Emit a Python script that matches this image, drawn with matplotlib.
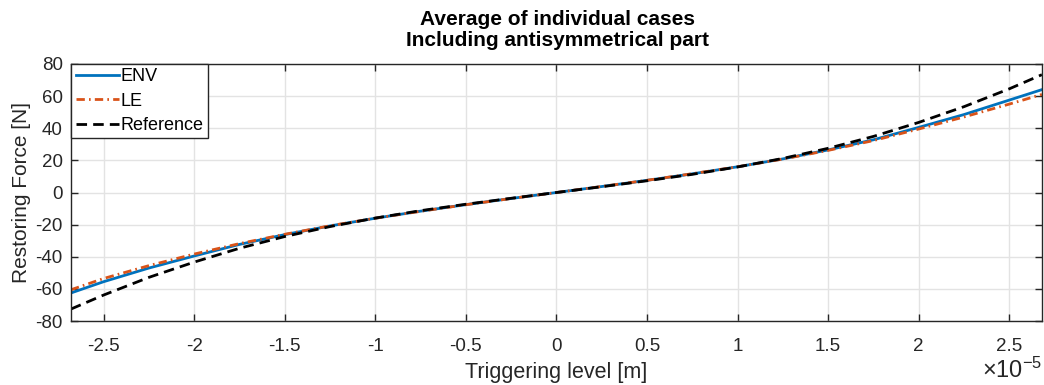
import matplotlib
matplotlib.use("Agg")
import matplotlib.pyplot as plt
import numpy as np

plt.rcParams["font.family"] = ["Liberation Sans", "DejaVu Sans"]
plt.rcParams["axes.unicode_minus"] = False
plt.rcParams["mathtext.fontset"] = "custom"
plt.rcParams["mathtext.rm"] = "Liberation Sans"
plt.rcParams["mathtext.it"] = "Liberation Sans"

# triggering level in units of 1e-5 m
level = [-2.68, -2.5, -2.25, -2.0, -1.75, -1.5, -1.25, -1.0, -0.75, -0.5, -0.25, 0.0,
         0.25, 0.5, 0.75, 1.0, 1.25, 1.5, 1.75, 2.0, 2.25, 2.5, 2.68]

force_env = [-62.5, -55.5, -47.0, -39.5, -32.3, -26.2, -20.8, -16.0, -11.6, -7.55, -3.72, 0.0,
             3.72, 7.55, 11.6, 16.0, 20.9, 26.5, 32.8, 40.5, 48.5, 57.5, 64.0]
force_le = [-60.5, -53.5, -45.5, -38.3, -31.8, -26.0, -20.7, -16.0, -11.7, -7.6, -3.75, 0.0,
            3.75, 7.6, 11.7, 16.0, 20.8, 26.2, 32.3, 39.5, 47.0, 55.0, 61.0]
force_ref = [-72.5, -63.8, -52.8, -43.3, -34.7, -27.4, -21.2, -15.9, -11.3, -7.3, -3.6, 0.0,
             3.6, 7.3, 11.3, 15.9, 21.2, 27.5, 34.9, 43.6, 53.4, 64.5, 73.3]

xticks = [-2.5, -2, -1.5, -1, -0.5, 0, 0.5, 1, 1.5, 2, 2.5]
xtick_labels = ["-2.5", "-2", "-1.5", "-1", "-0.5", "0", "0.5", "1", "1.5", "2", "2.5"]
yticks = [-80, -60, -40, -20, 0, 20, 40, 60, 80]

TXT = "#262626"

fig = plt.figure(figsize=(10.44, 3.85), dpi=100)
ax = fig.add_axes([0.068, 0.166, 0.930, 0.668])

x = np.array(level) * 1e-5
ax.plot(x, force_env, color="#0072BD", lw=2.0, ls="-", label="ENV")
ax.plot(x, force_le, color="#D95319", lw=2.0, ls=(0, (3.0, 1.5, 0.6, 1.5)), label="LE")
ax.plot(x, force_ref, color="black", lw=2.0, ls=(0, (3.8, 2.2)), label="Reference")

ax.set_xlim(-2.68e-5, 2.68e-5)
ax.set_ylim(-80, 80)
ax.set_xticks(np.array(xticks) * 1e-5)
ax.set_xticklabels(xtick_labels)
ax.set_yticks(yticks)

ax.grid(True, color="#e3e3e3", lw=1.0)
ax.set_axisbelow(True)
ax.tick_params(axis="both", direction="in", length=5, width=1, color=TXT,
               labelsize=13.5, labelcolor=TXT, top=True, right=True)
ax.tick_params(axis="x", pad=12)
ax.tick_params(axis="y", pad=6)
for s in ax.spines.values():
    s.set_color(TXT)
    s.set_linewidth(1.0)

ax.set_xlabel("Triggering level [m]", fontsize=15.5, color=TXT, labelpad=5)
ax.set_ylabel("Restoring Force [N]", fontsize=15, color=TXT, labelpad=3)
fig.text(0.998, 0.005, r"$\times\mathregular{10^{-5}}$", ha="right", va="bottom",
         fontsize=17, color=TXT)

fig.text(0.534, 0.975, "Average of individual cases\nIncluding antisymmetrical part",
         ha="center", va="top", fontsize=15, fontweight="bold", linespacing=1.15)

leg = ax.legend(loc="upper left", bbox_to_anchor=(0, 1), borderaxespad=0,
                fontsize=13, frameon=True, fancybox=False, handlelength=2.4,
                handletextpad=0.1, labelspacing=0.4, borderpad=0.25)
leg.get_frame().set_edgecolor(TXT)
leg.get_frame().set_linewidth(1.0)
leg.get_frame().set_alpha(1)

fig.savefig("out.png", dpi=100)
